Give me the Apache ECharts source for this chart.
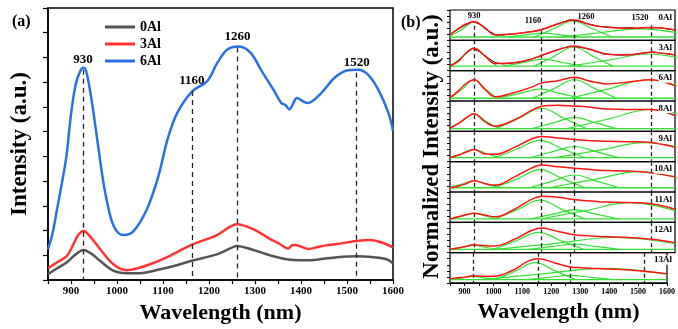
<!DOCTYPE html>
<html>
<head>
<meta charset="utf-8">
<script src="https://cdn.jsdelivr.net/npm/echarts@6/dist/echarts.min.js"></script>
<style>
  html, body { margin: 0; padding: 0; background: #fff; }
  #chart { width: 678px; height: 329px; }
</style>
</head>
<body>
<div id="chart"></div>
<script>
// ---- panel (a): absorption spectra, [wavelength nm, intensity] ----
const gray0Al = [[850,.12],[870,.24],[891,.36],[910,.52],[927,.61],[945,.53],[963,.39],[992,.19],[1021,.14],[1050,.14],[1094,.22],[1130,.30],[1162,.39],[1217,.52],[1246,.64],[1260,.69],[1296,.61],[1333,.50],[1369,.42],[1405,.40],[1441,.42],[1478,.46],[1521,.48],[1557,.46],[1586,.42],[1600,.34]];
const red3Al = [[850,.24],[870,.36],[891,.49],[903,.68],[915,.90],[927,.99],[940,.90],[963,.63],[992,.32],[1021,.20],[1045,.24],[1072,.32],[1108,.46],[1162,.71],[1217,.91],[1246,1.08],[1260,1.13],[1296,1.03],[1333,.83],[1354,.73],[1372,.64],[1380,.70],[1387,.71],[1416,.63],[1441,.68],[1478,.73],[1521,.79],[1550,.81],[1579,.75],[1600,.66]];
const blue6Al = [[850,.62],[860,.95],[870,1.45],[880,1.95],[890,2.5],[900,3.35],[910,3.95],[920,4.22],[927,4.29],[932,4.25],[940,3.91],[950,3.31],[960,2.64],[970,2.0],[978,1.6],[993,1.09],[1014,.91],[1036,.99],[1065,1.43],[1090,2.1],[1110,2.85],[1131,3.38],[1164,3.82],[1196,4.02],[1218,4.39],[1240,4.66],[1265,4.72],[1291,4.59],[1313,4.25],[1342,3.82],[1357,3.58],[1366,3.54],[1375,3.45],[1382,3.55],[1391,3.68],[1403,3.62],[1415,3.58],[1444,3.78],[1473,4.09],[1502,4.24],[1524,4.25],[1546,4.15],[1568,3.85],[1590,3.38],[1600,3.02]];

const peakPosA = [926, 1163, 1262, 1521];
const peakTopA = [4.25, 3.82, 4.70, 4.19];
const peakText = ['930', '1160', '1260', '1520'];

// ---- panel (b): normalized spectra with gaussian fits ----
const panelNames = ['0Al','3Al','6Al','8Al','9Al','10Al','11Al','12Al','13Al'];
const xB = [850, 880, 900, 930, 965, 1000, 1065, 1120, 1155, 1210, 1265, 1310, 1345, 1370, 1445, 1520, 1600];
const fitB = [
  [.18,.40,.52,.61,.43,.18,.22,.28,.35,.54,.67,.54,.46,.43,.40,.42,.34],
  [.16,.32,.55,.74,.50,.24,.26,.38,.50,.69,.81,.72,.62,.54,.52,.61,.52],
  [.11,.35,.55,.70,.40,.14,.28,.45,.59,.67,.78,.67,.60,.56,.63,.70,.50],
  [.11,.27,.42,.58,.33,.17,.38,.68,.83,.86,.83,.80,.76,.74,.72,.72,.52],
  [.14,.22,.30,.40,.26,.24,.47,.74,.83,.78,.73,.70,.68,.67,.66,.63,.47],
  [.14,.20,.26,.37,.28,.22,.50,.78,.89,.83,.78,.75,.72,.71,.69,.63,.50],
  [.11,.19,.24,.30,.24,.18,.43,.75,.86,.83,.75,.71,.68,.67,.65,.61,.43],
  [.11,.16,.20,.26,.23,.22,.44,.72,.81,.70,.59,.56,.53,.52,.50,.44,.33],
  [.14,.17,.19,.24,.22,.22,.41,.72,.80,.67,.53,.50,.48,.47,.44,.39,.30]
];
const baseB = [.11, .15, .09, .09, .13, .14, .11, .11, .11];

// raw data (black) only shows clearly in the two top panels
const xRaw = [850,875,900,925,950,975,1000,1025,1050,1075,1100,1125,1150,1175,1200,1225,1250,1275,1300,1325,1350,1375,1400,1425,1450,1475,1500,1525,1550,1575,1600];
const raw0Al = [.20,.35,.50,.62,.53,.33,.19,.17,.20,.22,.26,.29,.35,.42,.52,.60,.68,.64,.57,.51,.46,.44,.42,.41,.42,.40,.43,.41,.42,.37,.35];
const raw3Al = [.14,.30,.55,.73,.62,.43,.27,.22,.24,.28,.32,.39,.48,.57,.66,.74,.80,.78,.74,.67,.59,.55,.52,.51,.53,.55,.58,.62,.58,.55,.52];

const gB930 = [
  [[850,.14],[890,.36],[930,.61],[970,.36],[1010,.12]],
  [[855,.17],[892,.46],[930,.74],[968,.46],[1005,.16]],
  [[855,.12],[892,.40],[930,.70],[968,.40],[1005,.10]],
  [[850,.12],[890,.33],[930,.58],[970,.33],[1010,.10]],
  [[850,.15],[890,.27],[930,.40],[970,.27],[1010,.14]],
  [[850,.15],[890,.26],[930,.37],[970,.26],[1010,.15]],
  [[850,.12],[890,.20],[930,.30],[970,.20],[1010,.11]],
  [[850,.12],[890,.17],[930,.24],[970,.17],[1010,.11]],
  [[850,.12],[890,.16],[930,.22],[970,.16],[1010,.11]]
];
const gB1160 = [
  [[1040,.11],[1100,.18],[1160,.24],[1220,.18],[1280,.11]],
  [[1030,.15],[1095,.27],[1160,.38],[1225,.27],[1290,.15]],
  [[1010,.09],[1080,.24],[1150,.39],[1220,.24],[1290,.09]],
  [[1005,.09],[1080,.43],[1155,.76],[1230,.43],[1305,.09]],
  [[1000,.13],[1075,.42],[1150,.70],[1225,.42],[1300,.13]],
  [[1000,.14],[1075,.44],[1150,.74],[1225,.44],[1300,.14]],
  [[1000,.11],[1075,.42],[1150,.73],[1225,.42],[1300,.11]],
  [[995,.11],[1070,.39],[1145,.67],[1220,.39],[1295,.11]],
  [[1005,.11],[1075,.39],[1145,.67],[1215,.39],[1285,.11]]
];
const gB1260 = [
  [[1130,.11],[1195,.38],[1260,.64],[1325,.38],[1390,.11]],
  [[1132,.15],[1197,.47],[1262,.78],[1327,.47],[1392,.15]],
  [[1125,.09],[1195,.40],[1265,.70],[1335,.40],[1405,.09]],
  [[1125,.09],[1195,.28],[1265,.46],[1335,.28],[1405,.09]],
  [[1115,.13],[1190,.32],[1265,.50],[1340,.32],[1415,.13]],
  [[1115,.14],[1190,.35],[1265,.56],[1340,.35],[1415,.14]],
  [[1115,.11],[1190,.26],[1265,.41],[1340,.26],[1415,.11]],
  [[1115,.11],[1190,.20],[1265,.28],[1340,.20],[1415,.11]],
  [[1115,.11],[1190,.18],[1265,.25],[1340,.18],[1415,.11]]
];
const gB1520 = [
  [[1220,.11],[1350,.25],[1480,.38],[1610,.25]],
  [[1250,.15],[1380,.35],[1510,.55],[1640,.35]],
  [[1250,.09],[1380,.40],[1510,.70],[1640,.40]],
  [[1240,.09],[1380,.41],[1520,.72],[1660,.41]],
  [[1200,.13],[1350,.38],[1500,.63],[1650,.38]],
  [[1180,.14],[1330,.41],[1480,.67],[1630,.41]],
  [[1150,.11],[1300,.38],[1450,.65],[1600,.38]],
  [[1000,.11],[1200,.30],[1400,.50],[1600,.30]],
  [[960,.11],[1170,.30],[1380,.48],[1590,.30]]
];

const peakPosB = [932, 1155, 1264, 1520];
const peakTopB0 = [.48, .32, .65, .50];       // dashed line tops in the first panel
const peakLabelXB = [930, 1127, 1303, 1483];  // label anchors in the first panel
const peakLabelYB = [.82, .63, .79, .73];

const FONT = '"Liberation Serif", "Times New Roman", serif';
const GREEN = '#35e035';
const PANEL_TOP = 10, PANEL_H = 30.33;

const chart = echarts.init(document.getElementById('chart'), null, { renderer: 'canvas' });

const grids = [{ left: 48, top: 8, width: 345, height: 273, show: true, borderColor: '#000', borderWidth: 1.5 }];
const xAxes = [{
  gridIndex: 0, type: 'value', min: 850, max: 1600, interval: 50,
  axisLine: { lineStyle: { color: '#000', width: 1.5 } },
  axisTick: { length: 4, lineStyle: { color: '#000', width: 1.2 } },
  axisLabel: { color: '#000', fontFamily: FONT, fontWeight: 'bold', fontSize: 11, margin: 6,
    formatter: v => (v % 100 === 0 ? v : '') },
  splitLine: { show: false },
  name: 'Wavelength (nm)', nameLocation: 'middle', nameGap: 19,
  nameTextStyle: { color: '#000', fontFamily: FONT, fontWeight: 'bold', fontSize: 22 }
}];
const yAxes = [{
  gridIndex: 0, type: 'value', min: 0, max: 5.5, interval: 0.5,
  axisLine: { show: true, lineStyle: { color: '#000', width: 1.5 } },
  axisTick: { show: true, length: 5, lineStyle: { color: '#000', width: 1.2 } },
  axisLabel: { show: false },
  splitLine: { show: false },
  name: 'Intensity (a.u.)', nameLocation: 'middle', nameGap: 16,
  nameTextStyle: { color: '#000', fontFamily: FONT, fontWeight: 'bold', fontSize: 23 }
}];

const lineA = (name, data, color) => ({
  name, type: 'line', data, xAxisIndex: 0, yAxisIndex: 0,
  smooth: 0.35, showSymbol: false, symbol: 'none',
  lineStyle: { color, width: 2.5 }, itemStyle: { color }
});

const series = [
  lineA('0Al', gray0Al, '#555555'),
  lineA('3Al', red3Al, '#ff3535'),
  Object.assign(lineA('6Al', blue6Al, '#2b70e2'), {
    markLine: {
      silent: true, symbol: ['none', 'none'], animation: false,
      lineStyle: { color: '#222', width: 1.3, type: [5, 4] },
      label: { show: true, position: 'start', formatter: '{b}', distance: 4,
        color: '#000', fontFamily: FONT, fontWeight: 'bold', fontSize: 13 },
      data: peakPosA.map((x, i) => [{ coord: [x, peakTopA[i]], name: peakText[i] }, { coord: [x, 0] }])
    }
  })
];

const graphics = [
  { type: 'text', left: 12, top: 14, style: { text: '(a)', font: 'bold 16px ' + FONT, fill: '#000' } },
  { type: 'text', left: 401, top: 15, style: { text: '(b)', font: 'bold 16px ' + FONT, fill: '#000' } }
];

panelNames.forEach((nm, i) => {
  const g = i + 1;
  const last = i === panelNames.length - 1;
  const top = PANEL_TOP + i * PANEL_H;
  grids.push({ left: 450, top, width: 225, height: PANEL_H, show: true, borderColor: '#000', borderWidth: 1.2 });
  xAxes.push({
    gridIndex: g, type: 'value', min: 850, max: 1600, interval: 50,
    axisLine: { show: last, lineStyle: { color: '#000', width: 1.2 } },
    axisTick: { show: last, length: 3, lineStyle: { color: '#000' } },
    axisLabel: { show: last, color: '#000', fontFamily: FONT, fontWeight: 'bold', fontSize: 8, margin: 5,
      formatter: v => (v % 100 === 0 ? v : '') },
    splitLine: { show: false },
    name: last ? 'Wavelength (nm)' : '', nameLocation: 'middle', nameGap: 18,
    nameTextStyle: { color: '#000', fontFamily: FONT, fontWeight: 'bold', fontSize: 22 }
  });
  yAxes.push({
    gridIndex: g, type: 'value', min: 0, max: 1, interval: 0.2,
    axisLine: { show: false },
    axisTick: { show: true, length: 3, lineStyle: { color: '#000', width: 1 } },
    axisLabel: { show: false },
    splitLine: { show: false },
    name: i === 4 ? 'Normalized Intensity (a.u.)' : '', nameLocation: 'middle', nameGap: 6,
    nameTextStyle: { color: '#000', fontFamily: FONT, fontWeight: 'bold', fontSize: 23 }
  });

  const common = { type: 'line', xAxisIndex: g, yAxisIndex: g, showSymbol: false, symbol: 'none', silent: true };
  series.push({ ...common, name: 'base' + i, data: [[850, baseB[i]], [1600, baseB[i]]], lineStyle: { color: GREEN, width: 1.3 } });
  [gB930, gB1160, gB1260, gB1520].forEach((gs, k) => series.push({
    ...common, name: 'g' + k + '_' + i, data: gs[i], smooth: 0.4,
    lineStyle: { color: GREEN, width: 1.2 }
  }));
  const raw = i === 0 ? raw0Al : i === 1 ? raw3Al : null;
  if (raw) series.push({ ...common, name: 'raw' + i, data: xRaw.map((x, j) => [x, raw[j]]), lineStyle: { color: '#222', width: 1 } });

  const fit = { ...common, name: 'fit' + i, data: xB.map((x, j) => [x, fitB[i][j]]), smooth: 0.4,
    lineStyle: { color: '#ff1414', width: 1.5 }, z: 5,
    markLine: {
      silent: true, symbol: ['none', 'none'], animation: false,
      lineStyle: { color: '#222', width: 1.3, type: [4, 3] },
      label: { show: false },
      data: peakPosB.map((x, k) => [{ coord: [x, i === 0 ? peakTopB0[k] : 1] }, { coord: [x, 0] }])
    }
  };
  if (i === 0) {
    fit.markPoint = {
      silent: true, symbol: 'rect', symbolSize: 1, itemStyle: { color: 'rgba(0,0,0,0)' }, animation: false,
      label: { show: true, position: 'inside', formatter: '{b}', color: '#000', fontFamily: FONT, fontWeight: 'bold', fontSize: 8.5 },
      data: peakText.map((t, k) => ({ name: t, coord: [peakLabelXB[k], peakLabelYB[k]] }))
    };
  }
  series.push(fit);

  graphics.push({ type: 'text', right: 6, top: top + 3, z: 10,
    style: { text: nm, font: 'bold 9px ' + FONT, fill: '#000', backgroundColor: '#fff' } });
});

chart.setOption({
  animation: false,
  backgroundColor: '#fff',
  grid: grids,
  xAxis: xAxes,
  yAxis: yAxes,
  legend: {
    data: ['0Al', '3Al', '6Al'], orient: 'vertical', left: 100, top: 15,
    icon: 'rect', itemWidth: 30, itemHeight: 3, itemGap: 3,
    textStyle: { color: '#000', fontFamily: FONT, fontWeight: 'bold', fontSize: 14 }
  },
  graphic: graphics,
  series
});
</script>
</body>
</html>
